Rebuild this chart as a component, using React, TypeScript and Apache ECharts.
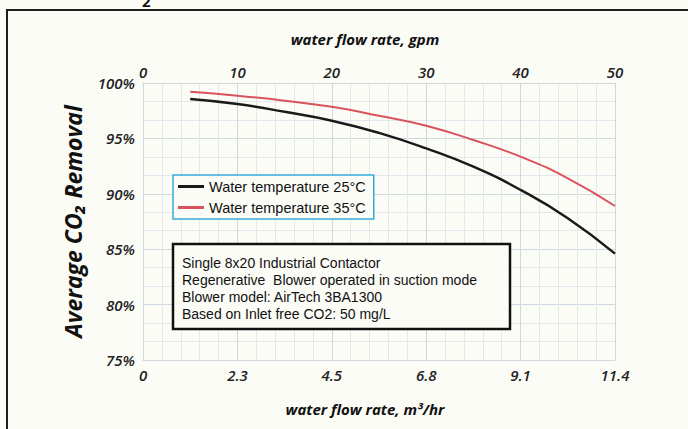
import React, { useEffect, useRef } from "react";
import * as echarts from "echarts";

const gpm = [5, 10, 15, 20, 25, 30, 35, 40, 45, 50];
const temp25 = [98.55, 98.1, 97.4, 96.6, 95.5, 94.1, 92.45, 90.35, 87.8, 84.6];
const temp35 = [99.2, 98.85, 98.4, 97.85, 97.05, 96.15, 94.85, 93.35, 91.4, 88.9];
const topTicks = [0, 10, 20, 30, 40, 50];
const bottomTickLabels = ["0", "2.3", "4.5", "6.8", "9.1", "11.4"];
const seriesNames = ["Water temperature 25°C", "Water temperature 35°C"];
const seriesColors = ["#1a1a1a", "#d9535c"];
const noteLines = [
  "Single 8x20 Industrial Contactor",
  "Regenerative  Blower operated in suction mode",
  "Blower model: AirTech 3BA1300",
  "Based on Inlet free CO2: 50 mg/L",
];

const labelFont = "'Open Sans', 'DejaVu Sans', sans-serif";
const textFont = "'Liberation Sans', Arial, sans-serif";

export default function App() {
  const ref = useRef<HTMLDivElement>(null);
  useEffect(() => {
    if (!ref.current) return;
    const chart = echarts.init(ref.current, undefined, { renderer: "svg" });
    const tickLabel = {
      fontStyle: "italic",
      fontWeight: 600,
      fontSize: 15,
      color: "#222",
      fontFamily: labelFont,
    };
    const nameStyle = {
      fontStyle: "italic",
      fontWeight: "bold",
      fontSize: 15,
      color: "#111",
      fontFamily: labelFont,
    };
    chart.setOption({
      animation: false,
      backgroundColor: "#fcfcf7",
      grid: { left: 143, right: 73, top: 83, bottom: 69, containLabel: false },
      legend: {
        orient: "vertical",
        left: 173,
        top: 175,
        data: seriesNames.map((n, i) => ({ name: n, icon: "rect", itemStyle: { color: seriesColors[i] } })),
        itemWidth: 26,
        itemHeight: 3,
        itemGap: 6,
        padding: [4, 8, 4, 5],
        borderColor: "#35a9d9",
        borderWidth: 1.5,
        backgroundColor: "#fcfcf7",
        textStyle: { fontSize: 14.5, color: "#111", fontFamily: textFont },
      },
      xAxis: [
        {
          type: "value",
          position: "top",
          min: 0,
          max: 50,
          interval: 10,
          name: "water flow rate, gpm",
          nameLocation: "middle",
          nameGap: 37,
          nameTextStyle: { ...nameStyle, padding: [0, 28, 0, 0] },
          axisLine: { show: true, lineStyle: { color: "#cfd8df" } },
          axisTick: { show: false },
          axisLabel: { ...tickLabel, margin: 4, formatter: (v: number) => String(v) },
          splitLine: { show: true, lineStyle: { color: "#cdd8e0", width: 1 } },
          minorTick: { show: false, splitNumber: 5 },
          minorSplitLine: { show: true, lineStyle: { color: "#e2e9ee", width: 1 } },
        },
        {
          type: "value",
          position: "bottom",
          min: 0,
          max: 50,
          interval: 10,
          name: "water flow rate, m³/hr",
          nameLocation: "middle",
          nameGap: 41,
          nameTextStyle: { ...nameStyle, padding: [0, 28, 0, 0] },
          axisLine: { show: true, lineStyle: { color: "#cfd8df" } },
          axisTick: { show: false },
          axisLabel: {
            ...tickLabel,
            margin: 7,
            formatter: (v: number) => bottomTickLabels[topTicks.indexOf(v)] ?? "",
          },
          splitLine: { show: false },
        },
      ],
      yAxis: {
        type: "value",
        min: 75,
        max: 100,
        interval: 5,
        name: "Average CO₂ Removal",
        nameLocation: "middle",
        nameGap: 59,
        nameTextStyle: { ...nameStyle, fontSize: 23 },
        axisLine: { show: true, lineStyle: { color: "#cfd8df" } },
        axisTick: { show: false },
        axisLabel: { ...tickLabel, margin: 8, formatter: "{value}%" },
        splitLine: { show: true, lineStyle: { color: "#cdd8e0", width: 1 } },
        minorTick: { show: false, splitNumber: 3 },
        minorSplitLine: { show: true, lineStyle: { color: "#e2e9ee", width: 1 } },
      },
      series: [
        {
          name: seriesNames[0],
          type: "line",
          xAxisIndex: 0,
          smooth: true,
          symbol: "none",
          data: gpm.map((g, i) => [g, temp25[i]]),
          lineStyle: { color: seriesColors[0], width: 2.5 },
          itemStyle: { color: seriesColors[0] },
          z: 3,
        },
        {
          name: seriesNames[1],
          type: "line",
          xAxisIndex: 0,
          smooth: true,
          symbol: "none",
          data: gpm.map((g, i) => [g, temp35[i]]),
          lineStyle: { color: seriesColors[1], width: 2 },
          itemStyle: { color: seriesColors[1] },
          z: 3,
        },
      ],
      graphic: [
        {
          type: "rect",
          shape: { x: 7, y: 10, width: 720, height: 460 },
          style: { fill: "none", stroke: "#1e1e1e", lineWidth: 2 },
          silent: true,
          z: 10,
        },
        {
          type: "text",
          x: 142,
          y: -7,
          style: { text: "2", fontSize: 15, fontWeight: "bold", fill: "#111", fontFamily: labelFont },
        },
        {
          type: "rect",
          shape: { x: 173, y: 244, width: 337, height: 85 },
          style: { fill: "#fcfcf7", stroke: "#111", lineWidth: 2.5 },
          z: 10,
        },
        {
          type: "text",
          x: 182,
          y: 254,
          z: 11,
          style: {
            text: noteLines.join("\n"),
            fontSize: 14,
            lineHeight: 17,
            fill: "#111",
            fontFamily: textFont,
          },
        },
      ],
    });
    return () => chart.dispose();
  }, []);
  return <div ref={ref} style={{ width: 688, height: 429, position: "absolute", left: 0, top: 0 }} />;
}
